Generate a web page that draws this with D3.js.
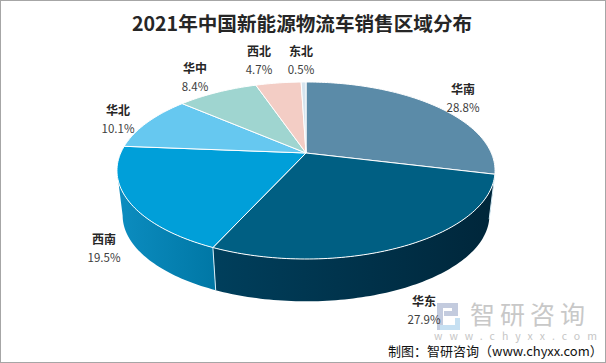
<!DOCTYPE html>
<html>
<head>
<meta charset="utf-8">
<script src="https://cdn.jsdelivr.net/npm/d3@7"></script>
<style>
    html, body { margin: 0; padding: 0; background: #fff; }
    svg { display: block; }
    text { font-family: "Noto Sans CJK SC", "Noto Sans", sans-serif; }
</style>
</head>
<body>
<div id="chart"></div>
<script>
    const regions = ["华南", "华东", "西南", "华北", "华中", "西北", "东北"];
    const shares = [28.8, 27.9, 19.5, 10.1, 8.4, 4.7, 0.5];
    const topColors = ["#5b8ba8", "#005f83", "#009fd9", "#66c8f0", "#9fd5d0", "#f3cdc5", "#d6e4ee"];
    const sideLeft = ["#2f4d5e", "#003f5c", "#0c8dc0", "#4a93b0", "#73999a", "#b09590", "#9aa6ad"];
    const sideRight = ["#2f4d5e", "#00263a", "#0077a5", "#3f7d96", "#628283", "#968079", "#848f96"];
    const labelOffsets = [[157, -59], [118, 153], [-202, 91], [-188, -38], [-111, -80], [-47, -97], [-5, -97]];

    const width = 606, height = 363;
    const cx = 306, cy = 153;
    const radius = 185.3, tilt = -0.1977, lift = 54.8;
    const depth = 45.5, sideScale = 0.97;

    const svg = d3.select("#chart").append("svg")
        .attr("width", width)
        .attr("height", height);

    // perspective projection of a point of the pie disc
    function project(angle, scale, drop) {
        const u = Math.sin(angle), v = -Math.cos(angle);
        const den = 1 + tilt * v;
        const x = radius * u / den;
        const y = (lift * v + cy) / den - cy;
        return [cx + scale * x, cy + scale * y + drop];
    }
    const arcPoints = (a0, a1, scale, drop) => {
        const n = Math.max(2, Math.ceil((a1 - a0) / 0.02));
        return d3.range(n + 1).map(i => project(a0 + (a1 - a0) * i / n, scale, drop));
    };
    const line = d3.line();

    const slices = d3.pie().sort(null)(shares);
    const defs = svg.append("defs");

    svg.append("rect").attr("width", width).attr("height", height).attr("fill", "#fff");
    svg.append("rect").attr("x", 0.5).attr("y", 0.5).attr("width", width - 1).attr("height", height - 1)
        .attr("fill", "none").attr("stroke", "#a6a6a6");

    // outer wall, runs between the two widest points of the disc
    const front0 = Math.acos(tilt), front1 = Math.PI * 2 - front0;
    slices.forEach((s, i) => {
        const a0 = Math.max(s.startAngle, front0), a1 = Math.min(s.endAngle, front1);
        if (a1 <= a0) return;
        const pts = arcPoints(a0, a1, 1, 0).concat(arcPoints(a0, a1, sideScale, depth).reverse());
        const xs = d3.extent(pts, d => d[0]);
        const grad = defs.append("linearGradient")
            .attr("id", "side" + i)
            .attr("gradientUnits", "userSpaceOnUse")
            .attr("x1", xs[0]).attr("x2", xs[1]).attr("y1", 0).attr("y2", 0);
        grad.append("stop").attr("offset", 0).attr("stop-color", sideLeft[i]);
        grad.append("stop").attr("offset", 1).attr("stop-color", sideRight[i]);
        svg.append("path")
            .attr("d", line(pts) + "Z")
            .attr("fill", `url(#side${i})`);
        // seam between two walls
        if (s.startAngle > front0 && s.startAngle < front1) {
            svg.append("path")
                .attr("d", line([project(s.startAngle, 1, 0), project(s.startAngle, sideScale, depth)]))
                .attr("stroke", "#d8eef8").attr("stroke-width", 1).attr("fill", "none");
        }
    });

    // top of the disc
    slices.forEach((s, i) => {
        const pts = [project(0, 0, 0)].concat(arcPoints(s.startAngle, s.endAngle, 1, 0));
        svg.append("path")
            .attr("d", line(pts) + "Z")
            .attr("fill", topColors[i])
            .attr("stroke", "#ffffff")
            .attr("stroke-width", 1)
            .attr("stroke-linejoin", "round");
    });

    svg.append("text")
        .attr("x", 302).attr("y", 31)
        .attr("text-anchor", "middle")
        .attr("font-size", 19.6).attr("font-weight", 700)
        .attr("fill", "#262626")
        .text("2021年中国新能源物流车销售区域分布");

    // watermark
    const mark = svg.append("g");
    mark.append("path").attr("d", "M437 303h21v13h-14v-5h8v-3h-9v22h-6z").attr("fill", "#c3cbde");
    mark.append("path").attr("d", "M455 318h5v12h-20v-5h15z").attr("fill", "#c6e0f2");
    svg.append("text")
        .attr("x", 470).attr("y", 324)
        .attr("font-size", 25).attr("fill", "#c8c8c8")
        .attr("letter-spacing", 5)
        .text("智研咨询");
    svg.append("text")
        .attr("x", 434).attr("y", 340)
        .attr("font-family", "Roboto, sans-serif")
        .attr("font-size", 10.5).attr("fill", "#c6c6c6")
        .attr("letter-spacing", 7)
        .text("www.chyxx.com");

    // data labels
    const labels = svg.append("g").attr("text-anchor", "middle");
    regions.forEach((name, i) => {
        const x = cx + labelOffsets[i][0], y = cy + labelOffsets[i][1];
        labels.append("text")
            .attr("x", x).attr("y", y)
            .attr("font-size", 12).attr("font-weight", 700)
            .attr("fill", "#262626")
            .text(name);
        labels.append("text")
            .attr("x", x).attr("y", y + 18)
            .attr("font-size", 11.5).attr("fill", "#404040")
            .text(shares[i].toFixed(1) + "%");
    });

    svg.append("text")
        .attr("x", 388).attr("y", 356)
        .attr("font-size", 13).attr("fill", "#111")
        .text("制图：智研咨询（www.chyxx.com）");
</script>
</body>
</html>
